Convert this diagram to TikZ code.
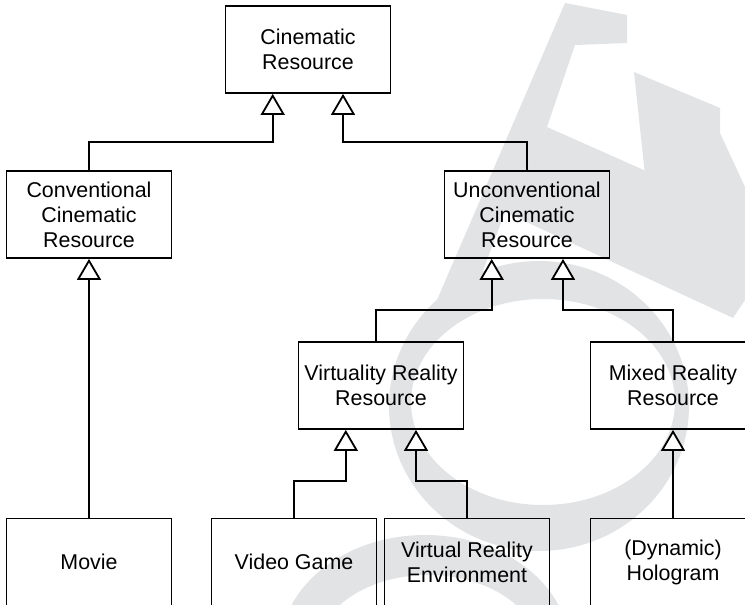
\documentclass[tikz,border=0pt]{standalone}
\usepackage{fontspec}
\setmainfont{Liberation Sans}
\usetikzlibrary{arrows.meta}

\definecolor{wmgray}{RGB}{226,227,229}
\tikzset{
  cls/.style={shape=rectangle,draw=black,align=center,line width=0.9pt,minimum width=82.5pt,minimum height=43.5pt,inner sep=0pt,font=\fontsize{10.7}{12.5}\selectfont},
  inh/.style={draw=black,line width=0.9pt,-{Triangle[open,fill=white,length=10.5pt,width=12pt]}},
}

\begin{document}
\begin{tikzpicture}[x=0.5pt,y=-0.5pt]
\useasboundingbox (0,0) rectangle (745,605);
\clip (0,0) rectangle (745,605);

% background logo
\fill[wmgray,even odd rule] (539,406) ellipse [x radius=150,y radius=145] (543,402) ellipse [x radius=132,y radius=103];
\fill[wmgray,even odd rule] (425,650) ellipse [x radius=145,y radius=115] (428,650) ellipse [x radius=110,y radius=75];
\fill[wmgray] (565,3) -- (627,15) -- (627,43) -- (575,45) -- (547,127) -- (505,212) -- (472,300) -- (437,300) -- cycle;
\fill[wmgray] (547,127) -- (745,215) -- (745,300) -- (733,318) -- (505,212) -- cycle;
\fill[wmgray] (634,72) -- (720,108) -- (720,133) -- (745,187) -- (745,220) -- (645,175) -- cycle;

\node[cls] (cin) at (308,49.5) {Cinematic\\Resource};
\node[cls] (conv) at (89,214.5) {Conventional\\Cinematic\\Resource};
\node[cls] (unconv) at (527,214.5) {Unconventional\\Cinematic\\Resource};
\node[cls] (vrres) at (381,385.5) {Virtuality Reality\\Resource};
\node[cls] (mixed) at (673,385.5) {Mixed Reality\\Resource};
\node[cls] (movie) at (89,562) {Movie};
\node[cls] (game) at (294,562) {Video Game};
\node[cls] (vrenv) at (467,562) {Virtual Reality\\Environment};
\node[cls] (holo) at (673,562) {(Dynamic)\\Hologram};

\draw[inh] (conv.north) -- ++(0,-28) -| ([xshift=-17.65pt]cin.south);
\draw[inh] (unconv.north) -- ++(0,-28) -| ([xshift=17.5pt]cin.south);
\draw[inh] (movie.north) -- (conv.south);
\draw[inh] ([xshift=-2.5pt]vrres.north) -- ++(0,-31.5) -| ([xshift=-17.65pt]unconv.south);
\draw[inh] (mixed.north) -- ++(0,-31.5) -| ([xshift=18pt]unconv.south);
\draw[inh] (game.north) -- ++(0,-37) -| ([xshift=-17.6pt]vrres.south);
\draw[inh] (vrenv.north) -- ++(0,-37) -| ([xshift=17.5pt]vrres.south);
\draw[inh] (holo.north) -- (mixed.south);
\end{tikzpicture}
\end{document}
